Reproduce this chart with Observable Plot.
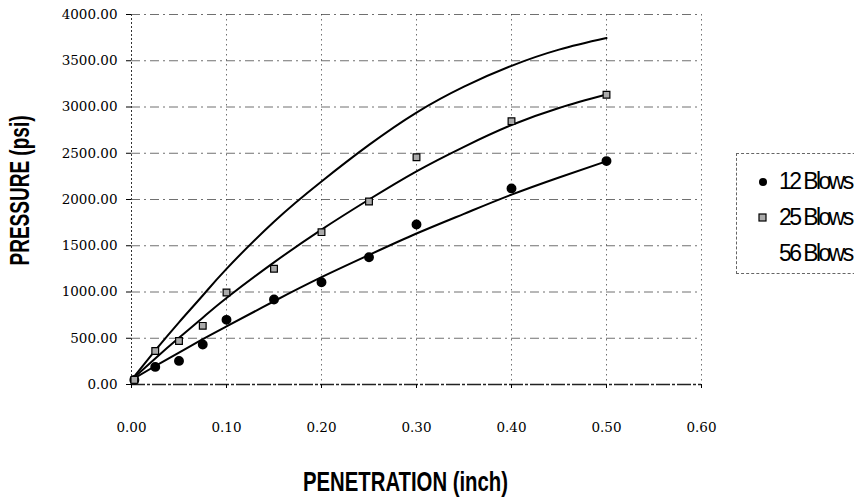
<!DOCTYPE html>
<html>
<head>
<meta charset="utf-8">
<script src="https://cdn.jsdelivr.net/npm/d3@7"></script>
<script src="https://cdn.jsdelivr.net/npm/@observablehq/plot@0.6"></script>
<style>
  html, body { margin: 0; padding: 0; background: #fff; }
  #wrap { position: relative; width: 854px; height: 497px; overflow: hidden; }
  #legend {
    position: absolute; left: 736px; top: 153px; width: 140px; height: 121px;
    border: 1px dashed #666; box-sizing: border-box;
    font-family: "Liberation Sans", Arial, sans-serif; font-size: 23px; letter-spacing: -2.6px;
    color: #000;
  }
  .item { position: absolute; left: 0; height: 26px; line-height: 26px; }
  .item svg { position: absolute; left: 20px; top: 8px; }
  .item span { position: absolute; left: 42px; white-space: nowrap; }
</style>
</head>
<body>
<div id="wrap">
  <div id="chart"></div>
  <div id="legend"></div>
</div>
<script>
// Measured data points
const penetration = [0.003, 0.025, 0.05, 0.075, 0.10, 0.15, 0.20, 0.25, 0.30, 0.40, 0.50];
const blows12 = [50, 190, 255, 432, 699, 919, 1105, 1375, 1730, 2120, 2415];
const blows25 = [50, 362, 470, 634, 995, 1252, 1647, 1978, 2457, 2847, 3132];

// Fitted curves
const fitX = [0, 0.025, 0.05, 0.075, 0.10, 0.15, 0.20, 0.25, 0.30, 0.35, 0.40, 0.45, 0.50];
const fit12 = [50, 200, 345, 490, 628, 900, 1160, 1400, 1632, 1845, 2052, 2238, 2414];
const fit25 = [50, 282, 505, 722, 935, 1320, 1675, 2000, 2305, 2570, 2805, 2990, 3135];
const fit56 = [50, 368, 672, 962, 1250, 1760, 2195, 2590, 2940, 3220, 3445, 3620, 3745];

const seriesNames = ["12 Blows", "25 Blows", "56 Blows"];
const xTicks = [0, 0.1, 0.2, 0.3, 0.4, 0.5, 0.6];
const yTicks = [0, 500, 1000, 1500, 2000, 2500, 3000, 3500, 4000];
const xTitle = "PENETRATION (inch)";
const yTitle = "PRESSURE (psi)";

const pts12 = penetration.map((x, i) => ({x, y: blows12[i]}));
const pts25 = penetration.map((x, i) => ({x, y: blows25[i]}));
const curves = [fit12, fit25, fit56].flatMap((arr, s) =>
  arr.map((y, i) => ({x: fitX[i], y, s: seriesNames[s]})));

const chart = Plot.plot({
  width: 854,
  height: 497,
  marginLeft: 131,
  marginRight: 153,
  marginTop: 14,
  marginBottom: 113,
  style: {background: "#fff", color: "#000"},
  x: {domain: [0, 0.6], ticks: xTicks, label: null},
  y: {domain: [0, 4000], ticks: yTicks, label: null},
  marks: [
    Plot.gridY(yTicks.slice(1), {stroke: "#333", strokeOpacity: 0.7, strokeDasharray: "9,4,2,4"}),
    Plot.gridX(xTicks.slice(1), {stroke: "#333", strokeOpacity: 0.7, strokeDasharray: "1.5,3.5"}),
    Plot.ruleX([0], {stroke: "#333", strokeDasharray: "2,2"}),
    Plot.ruleY([0], {stroke: "#222", strokeWidth: 1.3, strokeDasharray: "14,2,3,2"}),
    Plot.axisX(xTicks, {tickSize: 4, tickPadding: 34, tickFormat: d3.format(".2f"),
      fontFamily: "DejaVu Serif", fontSize: 13.5, label: null}),
    Plot.axisY(yTicks, {tickSize: 5, tickPadding: 9, tickFormat: d3.format(".2f"),
      fontFamily: "DejaVu Serif", fontSize: 13.5, label: null}),
    Plot.line(curves, {x: "x", y: "y", z: "s", curve: "natural", stroke: "#000", strokeWidth: 2}),
    Plot.dot(pts12, {x: "x", y: "y", r: 4.2, fill: "#000", stroke: "#000"}),
    Plot.dot(pts25, {x: "x", y: "y", symbol: "square", r: 3.8, fill: "#aaa", stroke: "#000", strokeWidth: 1.2}),
    Plot.text([xTitle], {frameAnchor: "bottom", textAnchor: "middle", dx: -11, dy: 106,
      fontFamily: "Liberation Sans", fontSize: 28, fontWeight: "bold", fill: "#000"}),
    Plot.text([yTitle], {frameAnchor: "left", textAnchor: "middle", dx: -111, dy: -9, rotate: -90,
      fontFamily: "Liberation Sans", fontSize: 28, fontWeight: "bold", fill: "#000"})
  ]
});
document.getElementById("chart").appendChild(chart);

// condense the axis titles
chart.querySelectorAll("text").forEach(t => {
  if (t.textContent === xTitle) {
    t.setAttribute("textLength", 205); t.setAttribute("lengthAdjust", "spacingAndGlyphs");
  } else if (t.textContent === yTitle) {
    t.setAttribute("textLength", 150); t.setAttribute("lengthAdjust", "spacingAndGlyphs");
  }
});

// Legend
const legend = document.getElementById("legend");
const markers = [
  '<svg width="12" height="12"><circle cx="6" cy="6" r="4" fill="#000"/></svg>',
  '<svg width="12" height="12"><rect x="2" y="2" width="7" height="7" fill="#aaa" stroke="#000" stroke-width="1.2"/></svg>',
  ''
];
seriesNames.forEach((name, i) => {
  const d = document.createElement("div");
  d.className = "item";
  d.style.top = (14 + i * 36) + "px";
  d.innerHTML = markers[i] + "<span>" + name + "</span>";
  legend.appendChild(d);
});
</script>
</body>
</html>
